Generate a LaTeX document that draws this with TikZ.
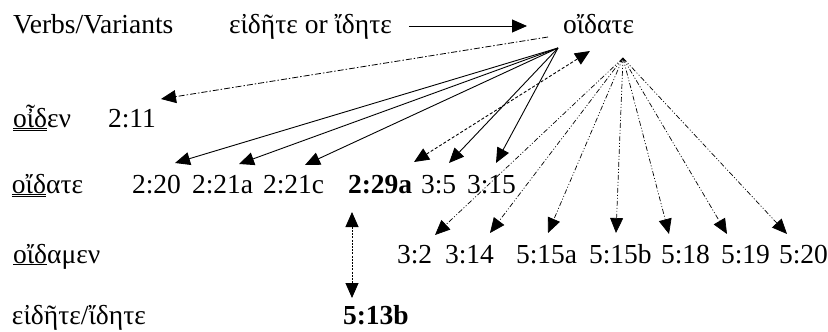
\documentclass[tikz,border=0pt]{standalone}
\usepackage{fontspec}
\setmainfont{Liberation Serif}
\usetikzlibrary{arrows.meta}
\newcommand\dblul[1]{\underline{\underline{#1}}}
\newcommand\sglul[1]{\underline{#1}}
\begin{document}
\begin{tikzpicture}[x=1pt,y=1pt,
  lbl/.style={anchor=base west, inner sep=0pt, outer sep=0pt, font=\fontsize{27.5}{33}\selectfont},
  boldlbl/.style={lbl, font=\fontsize{27.5}{33}\selectfont\bfseries},
  headtip/.style={-{Triangle[length=15pt,width=13pt]}},
  solidarr/.style={headtip, line width=0.9pt},
  dashdotarr/.style={headtip, line width=0.8pt, dash pattern=on 6pt off 2pt on 1.5pt off 2pt},
  dasharr/.style={{Triangle[length=15pt,width=13pt]}-{Triangle[length=15pt,width=13pt]}, line width=0.9pt, dash pattern=on 3pt off 2pt},
  fanarr/.style={headtip, line width=0.7pt, dash pattern=on 5pt off 2pt on 1pt off 2pt on 1pt off 2pt},
  dotarr/.style={{Triangle[length=15pt,width=13pt]}-{Triangle[length=15pt,width=13pt]}, line width=0.9pt, dash pattern=on 2pt off 1.2pt}]
\useasboundingbox (0,0) rectangle (828,-332);

% header row
\node[lbl] (hdr) at (13,-34) {Verbs/Variants};
\node[lbl] (vv)  at (229,-34) {εἰδῆτε or ἴδητε};
\node[lbl] (od)  at (563,-34) {οἴδατε};

% row: oiden
\node[lbl] (r2)   at (13,-127)  {\dblul{οἶδ}εν};
\node[lbl] (n211) at (108,-127) {2:11};

% row: oidate
\node[lbl] (r3)    at (12,-193)  {\dblul{οἴδ}ατε};
\node[lbl] (n220)  at (132,-193) {2:20};
\node[lbl] (n221a) at (192,-193) {2:21a};
\node[lbl] (n221c) at (263,-193) {2:21c};
\node[boldlbl] (n229a) at (348,-193) {2:29a};
\node[lbl] (n35)   at (421,-193) {3:5};
\node[lbl] (n315)  at (467,-193) {3:15};

% row: oidamen
\node[lbl] (r4)    at (13,-263)  {\sglul{οἴδ}αμεν};
\node[lbl] (n32)   at (397,-263) {3:2};
\node[lbl] (n314)  at (445,-263) {3:14};
\node[lbl] (n515a) at (516,-263) {5:15a};
\node[lbl] (n515b) at (589,-263) {5:15b};
\node[lbl] (n518)  at (661,-263) {5:18};
\node[lbl] (n519)  at (721,-263) {5:19};
\node[lbl] (n520)  at (779,-263) {5:20};

% row: eidete/idete
\node[lbl] (r5)     at (12,-324)  {εἰδῆτε/ἴδητε};
\node[boldlbl] (n513b) at (343,-324) {5:13b};

% fan origins below the head word
\coordinate (o1) at ([shift={(-15,-3)}]od.base west);
\coordinate (o2) at ([shift={(-5,-14)}]od.base west);
\coordinate (o4) at ([shift={(27,-17)}]od.base west);
\coordinate (o3) at ([shift={(60,-24)}]od.base west);

% variant to head word
\draw[solidarr] ([shift={(17,8)}]vv.base east) -- ([shift={(-36,8)}]od.base west);

% oiden
\draw[dashdotarr] (o1) -- ([shift={(53,28)}]n211.base west);

% oidate
\draw[solidarr] (o2) -- ([shift={(43,30)}]n220.base west);
\draw[solidarr] (o2) -- ([shift={(47,29)}]n221a.base west);
\draw[solidarr] (o2) -- ([shift={(42,28)}]n221c.base west);
\draw[solidarr] (o2) -- ([shift={(28,30)}]n35.base west);
\draw[solidarr] (o2) -- ([shift={(29,30)}]n315.base west);
\draw[dasharr] ([shift={(66,31)}]n229a.base west) -- (o4);

% oidamen
\draw[fanarr] (o3) -- ([shift={(38,28)}]n32.base west);
\draw[fanarr] (o3) -- ([shift={(45,30)}]n314.base west);
\draw[fanarr] (o3) -- ([shift={(32,30)}]n515a.base west);
\draw[fanarr] (o3) -- ([shift={(27,30)}]n515b.base west);
\draw[fanarr] (o3) -- ([shift={(8,29)}]n518.base west);
\draw[fanarr] (o3) -- ([shift={(6,29)}]n519.base west);
\draw[fanarr] (o3) -- ([shift={(8,29)}]n520.base west);

% 2:29a and 5:13b
\draw[dotarr] ([shift={(4,-19)}]n229a.base west) -- ([shift={(9,26)}]n513b.base west);
\end{tikzpicture}
\end{document}
